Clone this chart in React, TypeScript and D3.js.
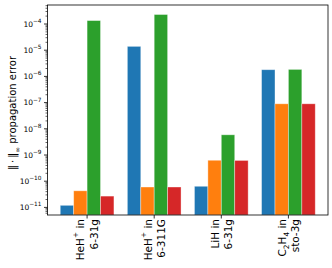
import React from "react";
import * as d3 from "d3";

const groups = ["HeH+ 6-31g", "HeH+ 6-311G", "LiH 6-31g", "C2H4 sto-3g"];
const series1 = [1.2e-11, 1.4e-5, 6.4e-11, 1.8e-6];
const series2 = [4.3e-11, 6.0e-11, 6.3e-10, 9.0e-8];
const series3 = [1.35e-4, 2.3e-4, 5.9e-9, 1.85e-6];
const series4 = [2.7e-11, 6.0e-11, 6.2e-10, 9.0e-8];
const yTickExps = [-11, -10, -9, -8, -7, -6, -5, -4];
const colors = ["#1f77b4", "#ff7f0e", "#2ca02c", "#d62728"];

const W = 332, H = 268;
const L = 47.5, R = 328, T = 5, B = 215;

export default function App() {
  const allSeries = [series1, series2, series3, series4];
  const barW = 0.2;
  const x = d3.scaleLinear().domain([-0.59, 3.59]).range([L, R]);
  const y = d3.scaleLog().domain([Math.pow(10, -11.29), Math.pow(10, -3.275)]).range([B, T]);
  const minor: number[] = [];
  for (let e = -12; e <= -3; e++) {
    for (let m = 2; m <= 9; m++) {
      const v = m * Math.pow(10, e);
      if (v >= y.domain()[0] && v <= y.domain()[1]) minor.push(v);
    }
  }
  const font = "DejaVu Sans, sans-serif";
  const labelFs = 10.5;
  const lines: [React.ReactNode, React.ReactNode][] = [
    [<>HeH<tspan fontSize={labelFs * 0.7} baselineShift="super">+</tspan> in</>, <>6-31g</>],
    [<>HeH<tspan fontSize={labelFs * 0.7} baselineShift="super">+</tspan> in</>, <>6-311G</>],
    [<>LiH in</>, <>6-31g</>],
    [<>C<tspan fontSize={labelFs * 0.7} baselineShift="sub">2</tspan>H<tspan fontSize={labelFs * 0.7} baselineShift="sub">4</tspan> in</>, <>sto-3g</>],
  ];
  return (
    <svg width={W} height={H} style={{ position: "absolute", left: 0, top: 0 }} fontFamily={font}>
      <rect width={W} height={H} fill="white" />
      {allSeries.map((s, si) =>
        s.map((v, gi) => {
          const x0 = x(gi - 0.4 + si * barW);
          const x1 = x(gi - 0.4 + (si + 1) * barW);
          return (
            <rect key={`${si}-${gi}`} x={x0} y={y(v)} width={x1 - x0} height={B - y(v)}
              fill={colors[si]} stroke="white" strokeOpacity={0.45} strokeWidth={0.8} />
          );
        })
      )}
      <rect x={L} y={T} width={R - L} height={B - T} fill="none" stroke="black" strokeWidth={0.8} />
      {minor.map((v, i) => (
        <line key={i} x1={L} x2={L - 2} y1={y(v)} y2={y(v)} stroke="black" strokeWidth={0.6} />
      ))}
      {yTickExps.map((e) => {
        const yy = y(Math.pow(10, e));
        return (
          <g key={e}>
            <line x1={L} x2={L - 3.5} y1={yy} y2={yy} stroke="black" strokeWidth={0.8} />
            <text x={L - 6} y={yy + 2.8} textAnchor="end" fontSize={7.5} fill="black">
              10<tspan fontSize={5.8} dy={-3.8}>{"\u2212" + Math.abs(e)}</tspan>
            </text>
          </g>
        );
      })}
      {groups.map((g, gi) => {
        const cx = x(gi);
        return (
          <g key={g}>
            <line x1={cx} x2={cx} y1={B} y2={B + 3.5} stroke="black" strokeWidth={0.8} />
            <g transform={`translate(${cx},${B + 4}) rotate(-90)`} fontSize={labelFs} fill="black">
              <text x={0} y={-6.6} dominantBaseline="central" textAnchor="end">{lines[gi][0]}</text>
              <text x={0} y={6.6} dominantBaseline="central" textAnchor="end">{lines[gi][1]}</text>
            </g>
          </g>
        );
      })}
      <text transform={`translate(16,${(T + B) / 2 + 3}) rotate(-90)`} textAnchor="middle" fontSize={10} fill="black">
        {"\u2016\u2009\u00b7\u2009\u2016"}<tspan fontSize={7} baselineShift="sub">{"\u221e"}</tspan> propagation error
      </text>
    </svg>
  );
}
